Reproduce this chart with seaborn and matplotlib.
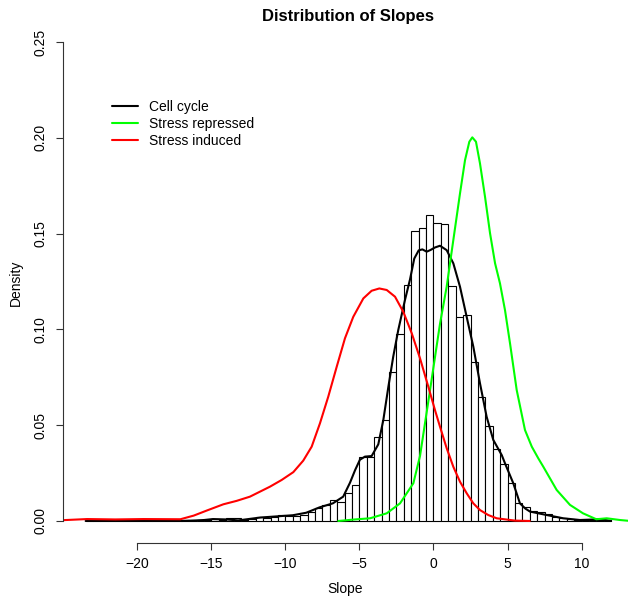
import matplotlib
matplotlib.use("Agg")
import matplotlib.pyplot as plt
import pandas as pd
import seaborn as sns

# histogram of cell cycle slopes: bins of width 0.5 starting at -23.5
bin_start = -23.5
bin_width = 0.5
hist_density = [
    0.0005, 0.0005, 0.0005, 0.0005, 0.0005, 0.0005, 0.0005, 0.0005,   # -23.5 .. -20.0
    0.0005, 0.0005, 0.0005, 0.0005, 0.0005, 0.0005, 0.0000, 0.0005,   # -19.5 .. -16.0
    0.0005, 0.0010, 0.0005, 0.0015, 0.0015, 0.0005, 0.0010, 0.0020,   # -15.5 .. -12.0
    0.0015, 0.0020, 0.0030, 0.0025, 0.0025, 0.0030, 0.0045, 0.0070,   # -11.5 .. -8.0
    0.0085, 0.0110, 0.0098, 0.0145, 0.0190, 0.0336, 0.0336, 0.0437,   # -7.5 .. -4.0
    0.0527, 0.0779, 0.0976, 0.1232, 0.1515, 0.1528, 0.1600, 0.1557,   # -3.5 .. 0.0
    0.1550, 0.1226, 0.1063, 0.1073, 0.0832, 0.0649, 0.0496, 0.0378,   # 0.5 .. 4.0
    0.0296, 0.0200, 0.0096, 0.0071, 0.0052, 0.0048, 0.0036, 0.0022,   # 4.5 .. 8.0
    0.0014, 0.0009, 0.0005, 0.0005, 0.0005, 0.0005, 0.0005,           # 8.5 .. 11.5
]

# density curves
cell_x = [-23.5, -22.0, -20.0, -18.0, -17.0, -16.0, -15.5, -14.9, -14.0, -13.2,
          -12.6, -11.7, -10.4, -9.5, -8.6, -7.7, -6.8, -6.1, -5.64, -5.3,
          -4.97, -4.63, -4.18, -3.73, -3.39, -3.05, -2.72, -2.38, -1.93, -1.59,
          -1.3, -1.0, -0.75, -0.46, -0.2, 0.1, 0.44, 0.89, 1.34, 1.79,
          2.24, 2.69, 3.14, 3.59, 4.04, 4.61, 4.83, 5.39, 5.84, 6.2,
          6.52, 7.65, 8.77, 9.9, 11.25, 12.0]
cell_y = [0.0, 0.0002, 0.0002, 0.0002, 0.0, 0.0003, 0.0005, 0.0010, 0.0008, 0.0003,
          0.0009, 0.0018, 0.0025, 0.0030, 0.0043, 0.0071, 0.0092, 0.0127, 0.0200, 0.0265,
          0.0320, 0.0336, 0.0339, 0.0400, 0.0527, 0.0700, 0.0858, 0.0997, 0.1153, 0.1260,
          0.1370, 0.1413, 0.1418, 0.1406, 0.1415, 0.1428, 0.1437, 0.1414, 0.1345, 0.1223,
          0.1066, 0.0910, 0.0719, 0.0544, 0.0423, 0.0344, 0.0301, 0.0197, 0.0092, 0.0065,
          0.0049, 0.0031, 0.0014, 0.0005, 0.0009, 0.0]

repressed_x = [-6.43, -5.3, -4.29, -3.16, -2.26, -1.36, -0.91, -0.24, 0.44, 0.89,
               1.34, 1.79, 2.13, 2.42, 2.62, 2.87, 3.14, 3.48, 3.82, 4.16,
               4.49, 4.83, 5.17, 5.62, 6.18, 6.64, 7.08, 7.42, 8.32, 9.22,
               10.1, 11.0, 11.7, 12.6, 13.3]
repressed_y = [0.0, 0.0008, 0.0014, 0.0040, 0.0092, 0.0197, 0.0340, 0.0680, 0.1030, 0.1223,
               0.1467, 0.1710, 0.1884, 0.1980, 0.2003, 0.1980, 0.1867, 0.1693, 0.1502, 0.1345,
               0.1241, 0.1101, 0.0927, 0.0684, 0.0475, 0.0388, 0.0327, 0.0283, 0.0162, 0.0084,
               0.0040, 0.0009, 0.0014, 0.0005, 0.0]

induced_x = [-25.1, -23.4, -21.5, -19.6, -17.1, -16.2, -15.3, -14.2, -13.3, -12.4,
             -11.05, -10.26, -9.47, -8.80, -8.23, -7.67, -7.11, -6.54, -5.98, -5.42,
             -4.74, -4.18, -3.66, -3.16, -2.60, -2.04, -1.47, -0.91, -0.35, 0.10,
             0.44, 0.89, 1.34, 1.79, 2.24, 2.69, 3.14, 3.70, 4.27, 5.5, 6.5]
induced_y = [0.0004, 0.0010, 0.0008, 0.0010, 0.0009, 0.0028, 0.0055, 0.0087, 0.0105, 0.0127,
             0.0179, 0.0214, 0.0255, 0.0315, 0.0388, 0.0510, 0.0649, 0.0805, 0.0954, 0.1066,
             0.1162, 0.1202, 0.1214, 0.1206, 0.1171, 0.1092, 0.0980, 0.0849, 0.0701, 0.0579,
             0.0492, 0.0380, 0.0283, 0.0205, 0.0145, 0.0092, 0.0057, 0.0031, 0.0014, 0.0002, 0.0]

sns.set_style("ticks")
plt.rcParams["font.family"] = ["Liberation Sans", "DejaVu Sans"]
plt.rcParams["text.color"] = "black"
plt.rcParams["axes.labelcolor"] = "black"
plt.rcParams["xtick.color"] = "black"
plt.rcParams["ytick.color"] = "black"

fig = plt.figure(figsize=(6.28, 5.99), dpi=100)
ax = fig.add_axes([63 / 628, 56 / 599, 1 - 63 / 628, 520 / 599])

edges = [bin_start + bin_width * i for i in range(len(hist_density) + 1)]
hist_df = pd.DataFrame({
    "slope": [e + bin_width / 2 for e in edges[:-1]],
    "density": hist_density,
})
sns.histplot(data=hist_df, x="slope", weights="density", bins=edges, stat="count",
             color="white", edgecolor="black", linewidth=0.8, alpha=1, ax=ax)

sns.lineplot(x=cell_x, y=cell_y, color="black", linewidth=1.5, label="Cell cycle", ax=ax)
sns.lineplot(x=repressed_x, y=repressed_y, color="#00ff00", linewidth=1.5,
             label="Stress repressed", ax=ax)
sns.lineplot(x=induced_x, y=induced_y, color="#ff0000", linewidth=1.5,
             label="Stress induced", ax=ax)

ax.set_xlim(-25.03, 13.14)
ax.set_ylim(-0.0115, 0.26)

# R-style axes: bounded spines, no box
sns.despine(ax=ax)
ax.spines["left"].set_bounds(0, 0.25)
ax.spines["bottom"].set_bounds(-20, 10)
for s in ["left", "bottom"]:
    ax.spines[s].set_linewidth(0.8)
    ax.spines[s].set_color("#333333")

ax.set_xticks([-20, -15, -10, -5, 0, 5, 10])
ax.set_yticks([0, 0.05, 0.10, 0.15, 0.20, 0.25])
ax.set_yticklabels(["0.00", "0.05", "0.10", "0.15", "0.20", "0.25"],
                   rotation=90, va="center")
ax.tick_params(axis="both", length=5, width=0.8, color="#333333", labelsize=10)
ax.tick_params(axis="x", pad=5)
ax.tick_params(axis="y", pad=6)

ax.set_xlabel("Slope", fontsize=10, labelpad=8)
ax.set_ylabel("Density", fontsize=10, labelpad=8)

fig.text(347.5 / 628, 1 - 16 / 599, "Distribution of Slopes", ha="center", va="center",
         fontsize=12, fontweight="bold")

ax.legend(loc="upper left", bbox_to_anchor=(111.7 / 628, 1 - 100 / 599),
          bbox_transform=fig.transFigure, frameon=False, fontsize=10,
          handlelength=1.9, handletextpad=0.8, labelspacing=0.2,
          borderpad=0, borderaxespad=0)

fig.savefig("out.png", dpi=100)
